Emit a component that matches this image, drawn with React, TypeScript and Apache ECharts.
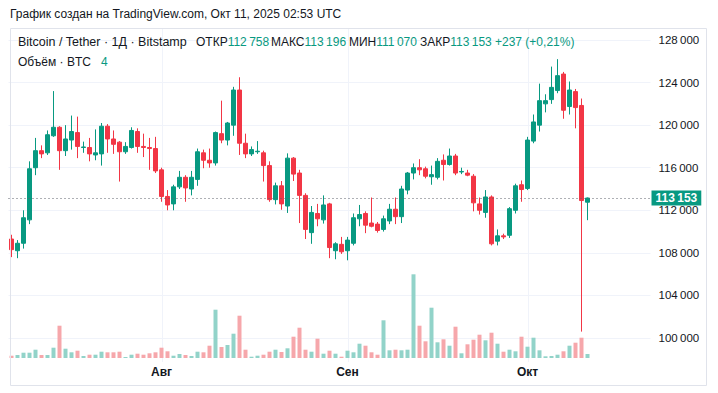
import React, { useEffect, useRef } from "react";
import * as echarts from "echarts";

// ---- data (BTC/USDT daily, Bitstamp) ----
const startDate = "2025-07-07";
const futureDays = 10;

const opens = [
  109300, 108200, 108900, 111100, 116000, 117600, 117400, 119000, 119800, 117600,
  118600, 119300, 117900, 117900, 117200, 117300, 119900, 118700, 118400, 117500,
  117900, 119400, 118000, 117900, 117800, 115800, 113300, 112600, 114200, 115100,
  114000, 114900, 117400, 116700, 116450, 119200, 118600, 120000, 123300, 118300,
  117300, 117500, 117400, 116200, 113000, 114300, 112400, 116900, 115500, 113400,
  109900, 111700, 111100, 112600, 108200, 108800, 108200, 108900, 111200, 111700,
  110800, 110700, 110200, 111000, 112100, 111400, 113900, 115500, 116000, 115900,
  115150, 115100, 116700, 116300, 117100, 115600, 115500, 115200, 112600, 111800,
  113250, 109100, 109600, 109650, 112000, 114400, 114050, 118500, 120000, 122000,
  122400, 123250, 124800, 121750, 123150, 121850, 112758,
];
const closes = [
  108300, 108900, 111300, 115900, 117600, 117300, 119100, 119800, 117600, 118700,
  119400, 118000, 117950, 117300, 117400, 119900, 118700, 118200, 117500, 118000,
  119500, 118000, 117900, 117800, 115700, 113300, 112500, 114200, 115100, 114100,
  115100, 117500, 116700, 116450, 119300, 118600, 120200, 123300, 118300, 117300,
  117700, 117550, 116200, 113000, 114300, 112600, 116900, 115400, 113400, 110200,
  111800, 111200, 112500, 108500, 108850, 108100, 109200, 111300, 111600, 110600,
  110500, 110100, 111200, 112100, 111400, 114000, 115500, 116000, 115800, 115200,
  115350, 116600, 116300, 117100, 115500, 115650, 115300, 112700, 112000, 113250,
  108850, 109600, 109500, 112150, 114300, 113950, 118600, 120300, 122300, 122300,
  123550, 124650, 121400, 123300, 121650, 112916, 113153,
];
const lows = [
  107600, 107500, 108400, 110700, 115300, 116900, 117200, 118900, 115800, 117100,
  117700, 116900, 117400, 116600, 116700, 116200, 117400, 117300, 114700, 117300,
  117800, 117400, 117000, 115800, 115500, 112800, 112000, 112000, 114000, 112800,
  113400, 114300, 115950, 116000, 116200, 118300, 118100, 119000, 117200, 116900,
  117100, 117300, 114700, 112800, 112550, 112050, 111750, 114750, 110800, 109300,
  108850, 110500, 110750, 107500, 107400, 107900, 107300, 108700, 110500, 109850,
  110400, 109900, 110000, 110700, 110700, 110800, 113500, 114900, 115300, 115000,
  114400, 114900, 114800, 116200, 115300, 115400, 115200, 111900, 111600, 111300,
  108700, 108700, 109300, 109400, 111700, 112800, 113900, 118300, 119400, 121200,
  122000, 123000, 120600, 121000, 119700, 100600, 111070,
];
const highs = [
  109700, 109200, 112000, 116600, 118800, 118100, 119500, 123200, 119900, 120000,
  120900, 120800, 118450, 118800, 119600, 120200, 120100, 119500, 118500, 118400,
  119800, 119700, 119200, 118800, 118900, 116000, 113900, 114400, 115700, 115300,
  115700, 117800, 117700, 117800, 119400, 122300, 120300, 123600, 124500, 119200,
  118000, 118500, 117600, 116600, 114600, 114750, 117350, 117000, 115800, 113600,
  112400, 112600, 113400, 112700, 109000, 109500, 109500, 111700, 112500, 111900,
  113200, 110900, 111500, 112600, 113200, 114300, 115600, 116400, 116800, 116100,
  116200, 116900, 117250, 117800, 117300, 116000, 115800, 115400, 113200, 113900,
  113400, 110200, 109800, 112300, 114500, 114800, 118900, 121000, 123900, 122900,
  125500, 126200, 125000, 124100, 123400, 122500, 113196,
];
const volumes = [
  2.3, 3, 5.3, 5.3, 8.3, 3, 3, 10.3, 32.3, 9.3,
  5.7, 7.3, 2, 3.3, 3.3, 6.3, 5.7, 5.7, 6.3, 1,
  3.3, 4.3, 3.3, 4.7, 5.7, 10.3, 6.7, 2.3, 4, 3,
  2, 6.3, 5.7, 12.3, 48.3, 11, 13, 24.3, 42.3, 8.3,
  1.3, 2.3, 3.3, 6.3, 8.3, 6, 9.7, 21.3, 30.3, 8.3,
  6.3, 19.3, 4.3, 7.3, 4.3, 1.3, 7.3, 5.7, 14.3, 12.3,
  5.7, 3.3, 37.7, 7.7, 8.3, 7.7, 8.3, 83.7, 32.3, 16.7,
  50.3, 15.7, 18.7, 12.3, 31.3, 4.7, 13.7, 18.3, 23.3, 17.7,
  25.3, 14.3, 6.3, 8.3, 6.7, 21.3, 11.3, 20.3, 7.7, 1.7,
  2, 3.3, 6.7, 12.3, 15.3, 20.3, 4,
];
const monthLabels: Record<string, string> = {
  "2025-08-01": "Авг",
  "2025-09-01": "Сен",
  "2025-10-01": "Окт",
};
const priceMin = 100000;
const priceMax = 128000;
const priceStep = 4000;
const lastVolumeLabel = "4";

const UP = "#089981";
const DOWN = "#f23645";
const UP_VOL = "#92d3c9";
const DOWN_VOL = "#f6a7ab";
const TEXT = "#131722";
const FONT = "'Liberation Sans', Arial, sans-serif";

const fmt = (v: number) =>
  String(Math.round(v)).replace(/\B(?=(\d{3})+(?!\d))/g, "\u2009");

function buildCategories(): string[] {
  const start = Date.parse(startDate + "T00:00:00Z");
  const n = opens.length + futureDays;
  const out: string[] = [];
  for (let i = 0; i < n; i++) {
    out.push(new Date(start + i * 86400000).toISOString().slice(0, 10));
  }
  return out;
}

export default function App() {
  const ref = useRef<HTMLDivElement>(null);
  useEffect(() => {
    if (!ref.current) return;
    const chart = echarts.init(ref.current, undefined, { renderer: "svg" });
    const categories = buildCategories();
    const candleData = opens.map((o, i) => [o, closes[i], lows[i], highs[i]]);
    const volData = volumes.map((v, i) => ({
      value: v,
      itemStyle: { color: closes[i] >= opens[i] ? UP_VOL : DOWN_VOL },
    }));
    const last = opens.length - 1;
    const lastClose = closes[last];
    const prevClose = closes[last - 1];
    const lastChange = lastClose - prevClose;
    const lastPct = ((lastChange / prevClose) * 100).toFixed(2).replace(".", ",");

    const richText = (x: number, y: number, label: string, value: string) => ({
      type: "text",
      x,
      y,
      z: 50,
      style: {
        text: (label ? `{a|${label}}` : "") + `{b|${value}}`,
        font: `12px ${FONT}`,
        textVerticalAlign: "middle",
        rich: {
          a: { fill: TEXT, fontSize: 12, fontFamily: FONT },
          b: { fill: UP, fontSize: 12, fontFamily: FONT },
        },
      },
    });

    const baseGraphic: any[] = [
      {
        type: "text",
        x: 10,
        y: 14,
        style: {
          text: "График создан на TradingView.com, Окт 11, 2025 02:53 UTC",
          fill: TEXT,
          font: `12px ${FONT}`,
          textVerticalAlign: "middle",
        },
      },
      {
        type: "rect",
        shape: { x: 10.5, y: 28.5, width: 696, height: 357 },
        style: { fill: "none", stroke: "#e0e3eb", lineWidth: 1 },
        z: 100,
        silent: true,
      },
      {
        type: "text",
        x: 18,
        y: 42,
        z: 50,
        style: {
          text: "Bitcoin / Tether · 1Д · Bitstamp",
          fill: TEXT,
          font: `12.5px ${FONT}`,
          textVerticalAlign: "middle",
        },
      },
      richText(196, 42, "ОТКР", fmt(opens[last])),
      richText(271, 42, "МАКС", fmt(highs[last])),
      richText(349, 42, "МИН", fmt(lows[last])),
      richText(420, 42, "ЗАКР", fmt(lastClose)),
      richText(495, 42, "", `+${lastChange} (+${lastPct}%)`),
      richText(18, 62, "Объём · BTC   ", lastVolumeLabel),
    ];

    const option: any = {
      animation: false,
      backgroundColor: "#ffffff",
      grid: [
        { left: 8.5, width: 642, top: 40, height: 298 },
        { left: 8.5, width: 642, top: 258, height: 100 },
      ],
      xAxis: [
        {
          type: "category",
          gridIndex: 0,
          data: categories,
          axisLine: { show: false },
          axisTick: { show: false },
          axisLabel: { show: false },
          splitLine: { show: false },
        },
        {
          type: "category",
          gridIndex: 1,
          data: categories,
          axisLine: { show: false },
          axisTick: { show: false },
          splitLine: { show: false },
          axisLabel: {
            interval: 0,
            formatter: (v: string) => monthLabels[v] || "",
            color: TEXT,
            fontSize: 12,
            fontWeight: 600,
            fontFamily: FONT,
            margin: 8,
          },
        },
      ],
      yAxis: [
        {
          type: "value",
          gridIndex: 0,
          position: "right",
          min: priceMin,
          max: priceMax,
          interval: priceStep,
          axisLine: { show: false },
          axisTick: { show: false },
          splitLine: { lineStyle: { color: "#f0f3fa", width: 1 } },
          axisLabel: {
            formatter: (v: number) => fmt(v),
            color: TEXT,
            fontSize: 11.5,
            fontFamily: FONT,
            margin: 8,
          },
        },
        { type: "value", gridIndex: 1, min: 0, max: 100, show: false },
      ],
      series: [
        {
          type: "bar",
          xAxisIndex: 1,
          yAxisIndex: 1,
          data: volData,
          barWidth: 4,
          z: 1,
          markLine: {
            silent: true,
            symbol: ["none", "none"],
            data: [{ yAxis: volumes[last] }],
            lineStyle: { opacity: 0 },
            label: {
              position: "end",
              formatter: lastVolumeLabel,
              backgroundColor: "#3fae9f",
              color: "#fff",
              fontSize: 12,
              fontWeight: "bold",
              fontFamily: FONT,
              padding: [2, 6, 1, 6],
              distance: 1,
              offset: [0, -4],
            },
          },
        },
        {
          type: "candlestick",
          xAxisIndex: 0,
          yAxisIndex: 0,
          data: candleData,
          barWidth: 4,
          z: 3,
          itemStyle: {
            color: UP,
            color0: DOWN,
            borderColor: UP,
            borderColor0: DOWN,
            borderWidth: 1,
          },
          markLine: {
            silent: true,
            symbol: ["none", "none"],
            data: [{ yAxis: lastClose }],
            lineStyle: { color: "#5d606b", type: [1, 3], width: 1 },
            label: {
              position: "end",
              formatter: fmt(lastClose),
              backgroundColor: UP,
              color: "#fff",
              fontSize: 12,
              fontWeight: "bold",
              fontFamily: FONT,
              padding: [2, 4, 1, 4],
              distance: 1,
            },
          },
        },
      ],
      graphic: baseGraphic,
    };
    chart.setOption(option);

    const vLines = Object.keys(monthLabels).map((d) => {
      const x = Math.round(chart.convertToPixel({ xAxisIndex: 0 }, d) as number) + 0.5;
      return {
        type: "line",
        shape: { x1: x, y1: 29, x2: x, y2: 362 },
        style: { stroke: "#f0f3fa", lineWidth: 1 },
        z: -1,
        silent: true,
      };
    });
    chart.setOption({ graphic: [...baseGraphic, ...vLines] });

    return () => chart.dispose();
  }, []);
  return (
    <div
      ref={ref}
      style={{ position: "fixed", left: 0, top: 0, width: 718, height: 393, background: "#fff" }}
    />
  );
}
